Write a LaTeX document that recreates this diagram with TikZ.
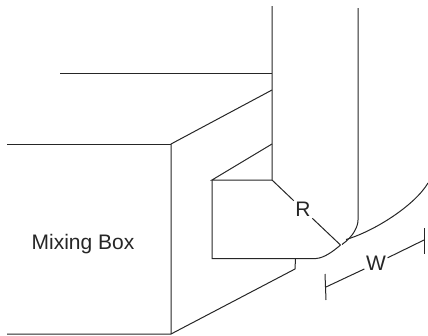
\documentclass[tikz,border=0pt]{standalone}
\usepackage{fontspec}
\setmainfont{Liberation Sans}
\begin{document}
\begin{tikzpicture}[x=1pt,y=-1pt,
  wire/.style={draw=black!85,line width=1pt,line join=miter},
  lbl/.style={inner sep=1.5pt,font=\fontsize{21}{24}\selectfont,text=black!85}]
\useasboundingbox (0,0) rectangle (428,335);
\coordinate (topA) at (272,6);
\coordinate (cornerIn) at (272,180);
\coordinate (ductT) at (272,73);
\coordinate (ductL) at (60,73);
\coordinate (ductU) at (272,90);
\coordinate (boxTR) at (171,144);
\coordinate (boxTL) at (7,144);
\coordinate (boxBR) at (171,334);
\coordinate (boxBL) at (7,334);
\coordinate (ductM) at (272,144);
\coordinate (openTL) at (212,180);
\coordinate (openBL) at (212,258.5);
\coordinate (openE) at (316,258.5);
\coordinate (tip) at (340.5,245);
\coordinate (notchT) at (295.5,258.5);
\coordinate (notchB) at (295,269);
\coordinate (topB) at (358,8);
\coordinate (bendS) at (358,220);
\coordinate (bendE) at (342,244.5);
\coordinate (arcS) at (346,239.5);
\coordinate (arcE) at (428,183);
\coordinate (t1a) at (325,274);
\coordinate (t1b) at (326,300);
\coordinate (t2a) at (424,228);
\coordinate (t2b) at (424,254);
\coordinate (t1m) at (326,287);
\coordinate (t2m) at (424,240);
\node[lbl] (R) at (303,209.5) {R};
\node[lbl] (W) at (376,263.5) {W};
\node[lbl] (mix) at (83,244) {Mixing Box};
\draw[wire] (topA) -- (cornerIn) -- (R);
\draw[wire] (R) -- (tip);
\draw[wire] (ductL) -- (ductT);
\draw[wire] (ductU) -- (boxTR) -- (boxBR);
\draw[wire] (boxTL) -- (boxTR);
\draw[wire] (boxBL) -- (boxBR) -- (notchB) -- (notchT);
\draw[wire] (ductM) -- (openTL) -- (cornerIn);
\draw[wire] (openTL) -- (openBL) -- (openE) .. controls (324,258) and (333,251.5) .. (tip);
\draw[wire] (topB) -- (bendS) .. controls (358,226) and (354,236) .. (bendE);
\draw[wire] (arcS) .. controls (375,231) and (415,205) .. (arcE);
\draw[wire] (t1a) -- (t1b);
\draw[wire] (t2a) -- (t2b);
\draw[wire] (t1m) -- (W) -- (t2m);
\end{tikzpicture}
\end{document}
